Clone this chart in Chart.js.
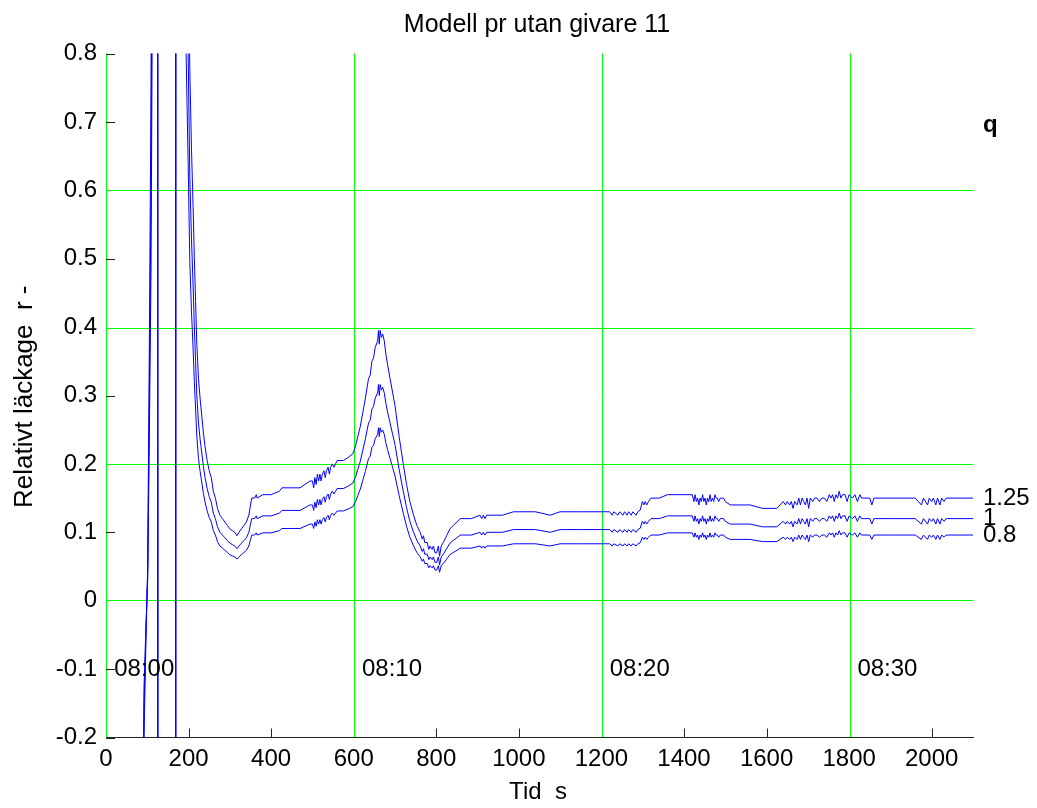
<!DOCTYPE html>
<html>
<head>
<meta charset="utf-8">
<script src="https://cdn.jsdelivr.net/npm/chart.js@4"></script>
<style>
html,body{margin:0;padding:0;background:#fff;}
canvas{display:block;}
</style>
</head>
<body>
<canvas id="c" width="1037" height="808"></canvas>
<script>
// ---- data ----
const timeSec = [
 80,88,92,97,101,105,109,113,118,125,
 126,168,169,190,194,199,203,207,211,214,
 217,220,224,228,232,236,240,245,250,255,
 260,265,270,276,282,288,294,300,306,312,
 317,322,328,334,340,346,350,353,360,364,
 366,380,400,420,426,450,470,482,494,500,
 503,506,509,512,515,518,521,524,528,531,
 534,538,541,544,548,552,556,560,575,588,
 598,604,610,616,622,628,636,640,644,648,
 652,658,660,662,664,667,670,674,678,682,
 688,694,700,710,720,728,736,745,753,761,
 766,769,772,778,782,785,790,793,797,801,
 805,808,812,817,825,833,841,850,858,885,
 906,910,914,918,922,960,987,1040,1076,1100,
 1150,1220,1226,1230,1240,1244,1252,1256,1262,1266,
 1272,1276,1284,1288,1294,1299,1303,1306,1310,1314,
 1320,1340,1360,1420,1424,1427,1430,1433,1436,1439,
 1442,1445,1448,1451,1454,1457,1460,1463,1466,1469,
 1472,1475,1478,1481,1484,1488,1496,1500,1512,1530,
 1560,1590,1625,1640,1646,1650,1656,1660,1664,1668,
 1674,1678,1682,1686,1690,1694,1698,1702,1706,1712,
 1716,1722,1728,1734,1740,1746,1752,1756,1760,1764,
 1768,1772,1776,1780,1784,1790,1795,1800,1808,1814,
 1820,1826,1830,1850,1855,1860,1900,1960,1975,1980,
 1990,1994,2000,2004,2010,2014,2020,2024,2030,2035,
 2100
];
const leakQ125 = [
 -2.5,-0.75,-0.2,-0.05,0.05,0.375,0.75,1.5,3.75,3.75,
 -3.75,-3.75,3.75,3.75,1.25,1.0,0.775,0.6625,0.575,0.5,
 0.4375,0.375,0.325,0.295,0.27,0.245,0.225,0.205,0.19,0.18,
 0.16,0.15,0.135,0.125,0.12,0.115,0.11,0.105,0.1025,0.1,
 0.095,0.1,0.105,0.11,0.115,0.125,0.14,0.15,0.15,0.155,
 0.15,0.155,0.155,0.16,0.165,0.165,0.165,0.17,0.175,0.175,
 0.165,0.18,0.17,0.185,0.175,0.185,0.175,0.185,0.19,0.18,
 0.19,0.195,0.185,0.195,0.2,0.195,0.2,0.205,0.205,0.21,
 0.215,0.225,0.24,0.255,0.275,0.295,0.325,0.33,0.35,0.355,
 0.37,0.38,0.395,0.375,0.395,0.385,0.39,0.38,0.36,0.345,
 0.325,0.305,0.285,0.24,0.2,0.17,0.145,0.125,0.11,0.1,
 0.09,0.095,0.085,0.085,0.075,0.08,0.075,0.08,0.07,0.07,
 0.08,0.065,0.08,0.085,0.095,0.105,0.11,0.115,0.12,0.12,
 0.125,0.12,0.125,0.12,0.125,0.125,0.13,0.13,0.125,0.13,
 0.13,0.13,0.125,0.13,0.125,0.13,0.125,0.13,0.125,0.13,
 0.125,0.13,0.125,0.13,0.1325,0.145,0.14,0.145,0.14,0.145,
 0.15,0.15,0.155,0.155,0.145,0.155,0.145,0.15,0.14,0.15,
 0.145,0.155,0.145,0.15,0.14,0.15,0.145,0.155,0.145,0.15,
 0.145,0.155,0.15,0.15,0.145,0.15,0.15,0.145,0.14,0.14,
 0.14,0.135,0.135,0.145,0.14,0.145,0.14,0.145,0.135,0.145,
 0.14,0.15,0.14,0.15,0.145,0.14,0.15,0.135,0.15,0.145,
 0.15,0.15,0.145,0.15,0.15,0.145,0.155,0.15,0.155,0.145,
 0.155,0.15,0.16,0.15,0.155,0.155,0.145,0.155,0.15,0.155,
 0.145,0.155,0.15,0.15,0.14,0.15,0.15,0.15,0.14,0.15,
 0.14,0.15,0.145,0.15,0.14,0.15,0.14,0.15,0.145,0.15,
 0.15
];
const leakQ100 = [
 -2,-0.6,-0.16,-0.04,0.04,0.3,0.6,1.2,3,3,
 -3,-3,3,3,1.0,0.8,0.62,0.53,0.46,0.4,
 0.35,0.3,0.26,0.236,0.216,0.196,0.18,0.164,0.152,0.144,
 0.128,0.12,0.108,0.1,0.096,0.092,0.088,0.084,0.082,0.08,
 0.076,0.08,0.084,0.088,0.092,0.1,0.112,0.12,0.12,0.124,
 0.12,0.124,0.124,0.128,0.132,0.132,0.132,0.136,0.14,0.14,
 0.132,0.144,0.136,0.148,0.14,0.148,0.14,0.148,0.152,0.144,
 0.152,0.156,0.148,0.156,0.16,0.156,0.16,0.164,0.164,0.168,
 0.172,0.18,0.192,0.204,0.22,0.236,0.26,0.264,0.28,0.284,
 0.296,0.304,0.316,0.3,0.316,0.308,0.312,0.304,0.288,0.276,
 0.26,0.244,0.228,0.192,0.16,0.136,0.116,0.1,0.088,0.08,
 0.072,0.076,0.068,0.068,0.06,0.064,0.06,0.064,0.056,0.056,
 0.064,0.052,0.064,0.068,0.076,0.084,0.088,0.092,0.096,0.096,
 0.1,0.096,0.1,0.096,0.1,0.1,0.104,0.104,0.1,0.104,
 0.104,0.104,0.1,0.104,0.1,0.104,0.1,0.104,0.1,0.104,
 0.1,0.104,0.1,0.104,0.106,0.116,0.112,0.116,0.112,0.116,
 0.12,0.12,0.124,0.124,0.116,0.124,0.116,0.12,0.112,0.12,
 0.116,0.124,0.116,0.12,0.112,0.12,0.116,0.124,0.116,0.12,
 0.116,0.124,0.12,0.12,0.116,0.12,0.12,0.116,0.112,0.112,
 0.112,0.108,0.108,0.116,0.112,0.116,0.112,0.116,0.108,0.116,
 0.112,0.12,0.112,0.12,0.116,0.112,0.12,0.108,0.12,0.116,
 0.12,0.12,0.116,0.12,0.12,0.116,0.124,0.12,0.124,0.116,
 0.124,0.12,0.128,0.12,0.124,0.124,0.116,0.124,0.12,0.124,
 0.116,0.124,0.12,0.12,0.112,0.12,0.12,0.12,0.112,0.12,
 0.112,0.12,0.116,0.12,0.112,0.12,0.112,0.12,0.116,0.12,
 0.12
];
const leakQ080 = [
 -1.6,-0.48,-0.128,-0.032,0.032,0.24,0.48,0.96,2.4,2.4,
 -2.4,-2.4,2.4,2.4,0.8,0.64,0.496,0.424,0.368,0.32,
 0.28,0.24,0.208,0.1888,0.1728,0.1568,0.144,0.1312,0.1216,0.1152,
 0.1024,0.096,0.0864,0.08,0.0768,0.0736,0.0704,0.0672,0.0656,0.064,
 0.0608,0.064,0.0672,0.0704,0.0736,0.08,0.0896,0.096,0.096,0.0992,
 0.096,0.0992,0.0992,0.1024,0.1056,0.1056,0.1056,0.1088,0.112,0.112,
 0.1056,0.1152,0.1088,0.1184,0.112,0.1184,0.112,0.1184,0.1216,0.1152,
 0.1216,0.1248,0.1184,0.1248,0.128,0.1248,0.128,0.1312,0.1312,0.1344,
 0.1376,0.144,0.1536,0.1632,0.176,0.1888,0.208,0.2112,0.224,0.2272,
 0.2368,0.2432,0.2528,0.24,0.2528,0.2464,0.2496,0.2432,0.2304,0.2208,
 0.208,0.1952,0.1824,0.1536,0.128,0.1088,0.0928,0.08,0.0704,0.064,
 0.0576,0.0608,0.0544,0.0544,0.048,0.0512,0.048,0.0512,0.0448,0.0448,
 0.0512,0.0416,0.0512,0.0544,0.0608,0.0672,0.0704,0.0736,0.0768,0.0768,
 0.08,0.0768,0.08,0.0768,0.08,0.08,0.0832,0.0832,0.08,0.0832,
 0.0832,0.0832,0.08,0.0832,0.08,0.0832,0.08,0.0832,0.08,0.0832,
 0.08,0.0832,0.08,0.0832,0.0848,0.0928,0.0896,0.0928,0.0896,0.0928,
 0.096,0.096,0.0992,0.0992,0.0928,0.0992,0.0928,0.096,0.0896,0.096,
 0.0928,0.0992,0.0928,0.096,0.0896,0.096,0.0928,0.0992,0.0928,0.096,
 0.0928,0.0992,0.096,0.096,0.0928,0.096,0.096,0.0928,0.0896,0.0896,
 0.0896,0.0864,0.0864,0.0928,0.0896,0.0928,0.0896,0.0928,0.0864,0.0928,
 0.0896,0.096,0.0896,0.096,0.0928,0.0896,0.096,0.0864,0.096,0.0928,
 0.096,0.096,0.0928,0.096,0.096,0.0928,0.0992,0.096,0.0992,0.0928,
 0.0992,0.096,0.1024,0.096,0.0992,0.0992,0.0928,0.0992,0.096,0.0992,
 0.0928,0.0992,0.096,0.096,0.0896,0.096,0.096,0.096,0.0896,0.096,
 0.0896,0.096,0.0928,0.096,0.0896,0.096,0.0896,0.096,0.0928,0.096,
 0.096
];
const seriesLabels = ['1.25', '1', '0.8'];
const legendTitle = 'q';
const xTickValues = [0,200,400,600,800,1000,1200,1400,1600,1800,2000];
const yTickValues = [-0.2,-0.1,0,0.1,0.2,0.3,0.4,0.5,0.6,0.7,0.8];
const yTickLabels = ['-0.2','-0.1','0','0.1','0.2','0.3','0.4','0.5','0.6','0.7','0.8'];
const gridX = [0,600,1200,1800];
const gridY = [0,0.2,0.4,0.6];
const clockLabels = ['08:00','08:10','08:20','08:30'];
const clockPos = [20,620,1220,1820];
const clockY = -0.1;
const titleText = 'Modell pr utan givare 11';
const xTitle = 'Tid  s';
const yTitle = 'Relativt läckage  r -';

// ---- chart ----
const FONT = "'Liberation Sans', Arial, Helvetica, sans-serif";
const toPts = (vals) => timeSec.map((t, i) => ({x: t, y: vals[i]}));
const allSeries = [leakQ125, leakQ100, leakQ080];
const near = (v, list) => list.some(g => Math.abs(g - v) < 1e-6);
const evenPx = p => Math.round(p / 2) * 2 + 0.5;

const overlay = {
  id: 'overlay',
  beforeDatasetsDraw(chart) {
    const {ctx, chartArea: a, scales: {x, y}} = chart;
    ctx.save();
    ctx.strokeStyle = '#00ff00';
    ctx.lineWidth = 1;
    gridX.forEach(v => {
      const px = evenPx(x.getPixelForValue(v));
      ctx.beginPath(); ctx.moveTo(px, a.top); ctx.lineTo(px, a.bottom); ctx.stroke();
    });
    gridY.forEach(v => {
      const py = evenPx(y.getPixelForValue(v));
      ctx.beginPath(); ctx.moveTo(a.left, py); ctx.lineTo(a.right, py); ctx.stroke();
    });
    ctx.strokeStyle = '#222';
    xTickValues.forEach(v => {
      if (near(v, gridX)) return;
      const px = Math.round(x.getPixelForValue(v)) + 0.5;
      ctx.beginPath(); ctx.moveTo(px, a.bottom); ctx.lineTo(px, a.bottom - 9); ctx.stroke();
    });
    yTickValues.forEach(v => {
      if (near(v, gridY)) return;
      const py = Math.round(y.getPixelForValue(v)) + 0.5;
      ctx.beginPath(); ctx.moveTo(a.left, py); ctx.lineTo(a.left + 9, py); ctx.stroke();
    });
    ctx.restore();
  },
  afterDraw(chart) {
    const {ctx, chartArea: a, scales: {x, y}} = chart;
    ctx.save();
    ctx.fillStyle = '#000';
    ctx.font = '25px ' + FONT;
    ctx.textAlign = 'center';
    ctx.textBaseline = 'alphabetic';
    ctx.fillText(titleText, 537, 32);
    ctx.font = '24px ' + FONT;
    ctx.fillText(xTitle, 538, 799);
    ctx.save();
    ctx.translate(32, 508);
    ctx.rotate(-Math.PI / 2);
    ctx.textAlign = 'left';
    ctx.font = '26px ' + FONT;
    ctx.fillText(yTitle, 0, 0);
    ctx.restore();
    ctx.font = '24px ' + FONT;
    ctx.textAlign = 'left';
    ctx.textBaseline = 'middle';
    clockLabels.forEach((s, i) => {
      ctx.fillText(s, x.getPixelForValue(clockPos[i]), y.getPixelForValue(clockY));
    });
    allSeries.forEach((vals, i) => {
      ctx.fillText(seriesLabels[i], a.right + 10, y.getPixelForValue(vals[vals.length - 1]));
    });
    ctx.font = 'bold 24px ' + FONT;
    ctx.fillText(legendTitle, a.right + 10, 125);
    ctx.restore();
  }
};

new Chart(document.getElementById('c'), {
  type: 'line',
  data: {
    datasets: allSeries.map((vals, i) => ({
      label: seriesLabels[i],
      data: toPts(vals),
      borderColor: '#0000ff',
      borderWidth: 1,
      pointRadius: 0,
      fill: false,
      tension: 0
    }))
  },
  options: {
    responsive: false,
    animation: false,
    devicePixelRatio: 1,
    layout: {padding: {left: 0, right: 64, top: 53.5, bottom: 0}},
    plugins: {legend: {display: false}, tooltip: {enabled: false}, title: {display: false}},
    scales: {
      x: {
        type: 'linear',
        min: 0, max: 2100,
        afterBuildTicks: s => { s.ticks = xTickValues.map(v => ({value: v})); },
        afterFit: s => { s.height = 70.5; },
        ticks: {
          color: '#000', font: {family: FONT, size: 24}, padding: 7,
          maxRotation: 0, autoSkip: false, includeBounds: false,
          callback: v => String(v)
        },
        grid: {display: false, drawTicks: false},
        border: {display: true, color: '#222', width: 1}
      },
      y: {
        type: 'linear',
        min: -0.2, max: 0.8,
        afterBuildTicks: s => { s.ticks = yTickValues.map(v => ({value: v})); },
        afterFit: s => { s.width = 106; },
        ticks: {
          color: '#000', font: {family: FONT, size: 24}, padding: 9,
          autoSkip: false, includeBounds: false,
          callback: (v, i) => yTickLabels[i]
        },
        grid: {display: false, drawTicks: false},
        border: {display: false}
      }
    }
  },
  plugins: [overlay]
});
</script>
</body>
</html>
